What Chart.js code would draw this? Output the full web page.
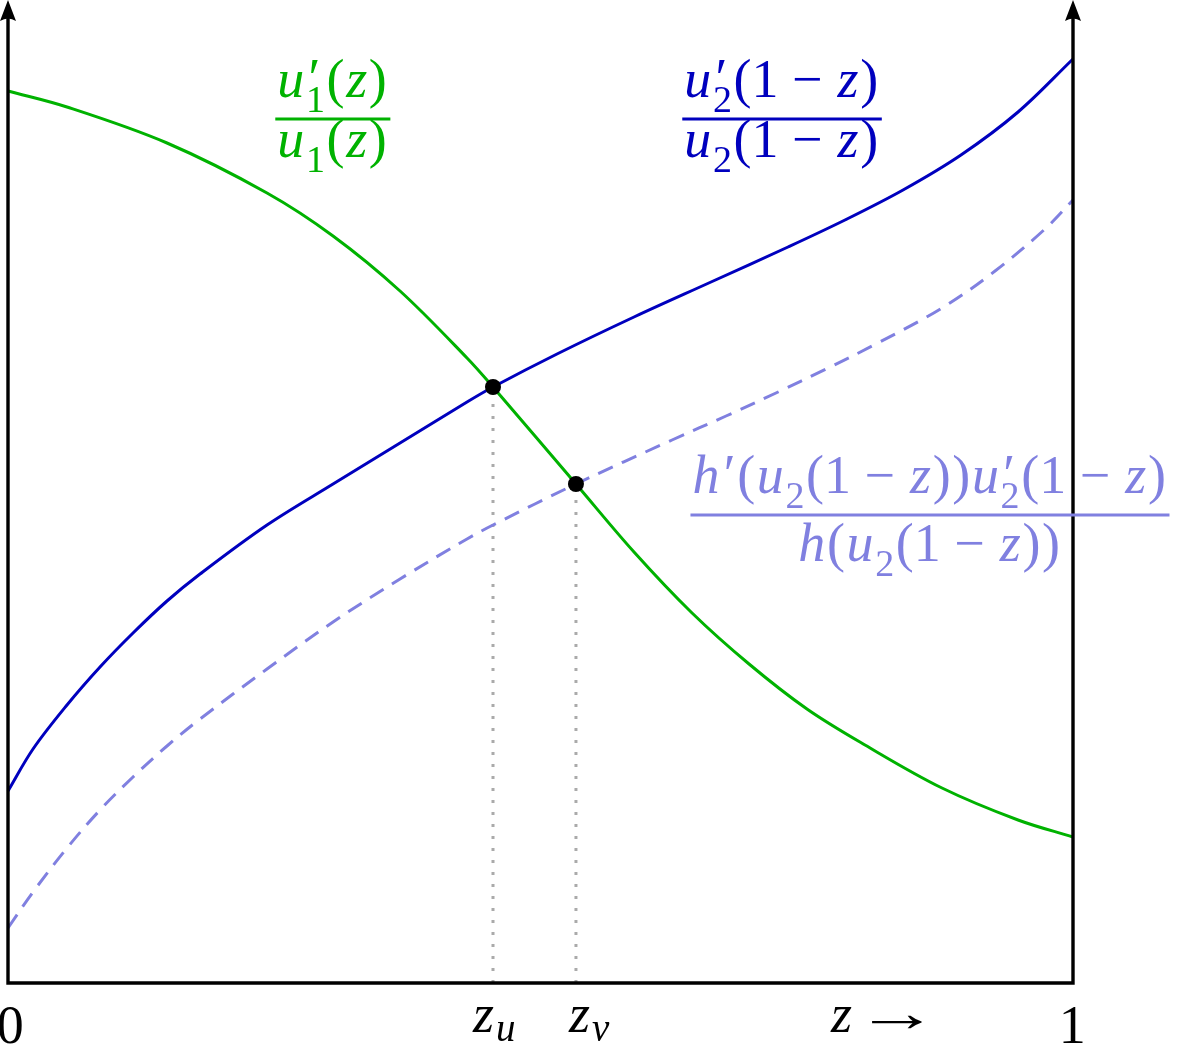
<!DOCTYPE html>
<html>
<head>
<meta charset="utf-8">
<script src="https://cdn.jsdelivr.net/npm/chart.js@4.4.0/dist/chart.umd.min.js"></script>
<style>
  html, body { margin: 0; padding: 0; background: #fff; }
  #wrap { width: 1177px; height: 1046px; }
</style>
</head>
<body>
<div id="wrap"><canvas id="curveChart" width="1177" height="1046"></canvas></div>
<script>
// values (x = z in [0,1], y in arbitrary units)
const greenX = [0, 0.0554, 0.1493, 0.2432, 0.3052, 0.3681, 0.4310, 0.4554, 0.5333, 0.5878, 0.6423, 0.6958, 0.7502, 0.8047, 0.8770, 0.9484, 1.0];
const greenY = [8.92, 8.76, 8.40, 7.90, 7.47, 6.92, 6.25, 5.96, 4.99, 4.31, 3.70, 3.19, 2.74, 2.38, 1.95, 1.63, 1.46];

const blueX = [0, 0.0235, 0.0554, 0.0864, 0.1174, 0.1493, 0.1803, 0.2432, 0.3052, 0.3681, 0.4310, 0.4554, 0.5155, 0.5878, 0.6601, 0.7324, 0.7859, 0.8404, 0.8948, 0.9484, 1.0];
const blueY = [1.92, 2.34, 2.78, 3.16, 3.50, 3.82, 4.09, 4.58, 4.99, 5.40, 5.81, 5.96, 6.29, 6.66, 7.01, 7.36, 7.63, 7.93, 8.28, 8.71, 9.24];

const dashX = [0, 0.0235, 0.0554, 0.0864, 0.1174, 0.1493, 0.1803, 0.2432, 0.3052, 0.3681, 0.4310, 0.4554, 0.5333, 0.6235, 0.6742, 0.7211, 0.7681, 0.8150, 0.8770, 0.9268, 0.9737, 1.0];
const dashY = [0.55, 0.91, 1.35, 1.73, 2.06, 2.37, 2.64, 3.14, 3.61, 4.04, 4.44, 4.58, 4.99, 5.43, 5.67, 5.90, 6.14, 6.39, 6.75, 7.12, 7.54, 7.83];

const crossX = [0.4554, 0.5333];   // z_u, z_v
const crossY = [5.96, 4.99];

const tickVals = [0, 0.4554, 0.5333, 1];

const GREEN = 'rgb(0,178,0)';
const BLUE = 'rgb(0,0,190)';
const LIGHT = 'rgb(128,128,224)';
const FONT = '"Liberation Serif", serif';

function pts(xs, ys) {
    return xs.map((x, i) => ({ x: x, y: ys[i] }));
}

// --- small math text helper: ['i',txt] italic, ['r',txt] roman, ['s',prime,sub] stacked scripts
function tokFont(kind, size) {
    return (kind === 'i' ? 'italic ' : '') + Math.round(size) + 'px ' + FONT;
}
function tokWidth(ctx, t, size) {
    const gap = size * 0.03;
    if (t[0] === 's') {
        ctx.font = tokFont('r', size);
        const a = t[1] ? ctx.measureText(t[1]).width + size * 0.05 : 0;
        ctx.font = tokFont('r', size * 0.7);
        const b = t[2] ? ctx.measureText(t[2]).width : 0;
        return Math.max(a, b) + gap;
    }
    ctx.font = tokFont(t[0], size);
    return ctx.measureText(t[1]).width + gap;
}
function mathWidth(ctx, toks, size) {
    return toks.reduce((w, t) => w + tokWidth(ctx, t, size), 0);
}
function drawMath(ctx, toks, x, y, size, color, align) {
    const w = mathWidth(ctx, toks, size);
    let cx = align === 'center' ? x - w / 2 : (align === 'right' ? x - w : x);
    ctx.fillStyle = color;
    ctx.textBaseline = 'alphabetic';
    ctx.textAlign = 'left';
    toks.forEach(t => {
        const tw = tokWidth(ctx, t, size);
        if (t[0] === 's') {
            if (t[1]) { ctx.font = tokFont('r', size); ctx.fillText(t[1], cx + size * 0.05, y - size * 0.02); }
            if (t[2]) { ctx.font = tokFont('r', size * 0.7); ctx.fillText(t[2], cx, y + size * 0.27); }
        } else {
            ctx.font = tokFont(t[0], size);
            ctx.fillText(t[1], cx, y);
        }
        cx += tw;
    });
    return w;
}
function drawFrac(ctx, num, den, cx, barY, numGap, denGap, size, color) {
    const w = Math.max(mathWidth(ctx, num, size), mathWidth(ctx, den, size)) + 4;
    drawMath(ctx, num, cx, barY - numGap, size, color, 'center');
    drawMath(ctx, den, cx, barY + denGap, size, color, 'center');
    ctx.fillStyle = color;
    ctx.fillRect(cx - w / 2, barY - 1.5, w, 3);
}

const oneMinusZ = [['r', '(1 − '], ['i', 'z'], ['r', ')']];

const axesPlugin = {
    id: 'axesPlugin',
    afterDatasetsDraw(chart) {
        const ctx = chart.ctx;
        const xs = chart.scales.x, ys = chart.scales.y;
        const x0 = xs.getPixelForValue(0), x1 = xs.getPixelForValue(1);
        const yb = ys.getPixelForValue(0), yt = chart.chartArea.top;
        ctx.save();
        ctx.strokeStyle = '#000';
        ctx.fillStyle = '#000';
        ctx.lineWidth = 3.4;
        ctx.lineJoin = 'miter';
        ctx.beginPath();
        ctx.moveTo(x0, yt + 16); ctx.lineTo(x0, yb); ctx.lineTo(x1, yb); ctx.lineTo(x1, yt + 16);
        ctx.stroke();
        [x0, x1].forEach(ax => {
            ctx.beginPath();
            ctx.moveTo(ax, yt);
            ctx.lineTo(ax + 8, yt + 21);
            ctx.quadraticCurveTo(ax, yt + 16, ax - 8, yt + 21);
            ctx.closePath();
            ctx.fill();
        });
        ctx.restore();
    },
    afterDraw(chart) {
        const ctx = chart.ctx;
        const xs = chart.scales.x, ys = chart.scales.y;
        const S = 54;
        ctx.save();
        // curve labels
        drawFrac(ctx,
            [['i', 'u'], ['s', '′', '1'], ['r', '('], ['i', 'z'], ['r', ')']],
            [['i', 'u'], ['s', '', '1'], ['r', '('], ['i', 'z'], ['r', ')']],
            xs.getPixelForValue(0.305), ys.getPixelForValue(8.64), 22, 38, S, GREEN);
        drawFrac(ctx,
            [['i', 'u'], ['s', '′', '2']].concat(oneMinusZ),
            [['i', 'u'], ['s', '', '2']].concat(oneMinusZ),
            xs.getPixelForValue(0.7268), ys.getPixelForValue(8.64), 22, 38, S, BLUE);
        drawFrac(ctx,
            [['i', 'h'], ['s', '′', ''], ['r', '('], ['i', 'u'], ['s', '', '2']].concat(oneMinusZ, [['r', ')'], ['i', 'u'], ['s', '′', '2']], oneMinusZ),
            [['i', 'h'], ['r', '('], ['i', 'u'], ['s', '', '2']].concat(oneMinusZ, [['r', ')']]),
            xs.getPixelForValue(0.8657), ys.getPixelForValue(4.68), 22, 46, S, LIGHT);

        // axis labels
        const by = ys.getPixelForValue(0) + 60;
        ctx.fillStyle = '#000';
        drawMath(ctx, [['r', '0']], xs.getPixelForValue(tickVals[0]) + 3, by, S, '#000', 'center');
        ctx.font = tokFont('i', S);
        ctx.fillText('z', xs.getPixelForValue(tickVals[1]) - 20, by - 11);
        ctx.font = tokFont('i', S * 0.72);
        ctx.fillText('u', xs.getPixelForValue(tickVals[1]) + 3, by - 2);
        ctx.font = tokFont('i', S);
        ctx.fillText('z', xs.getPixelForValue(tickVals[2]) - 7, by - 11);
        ctx.font = tokFont('i', S * 0.72);
        ctx.fillText('v', xs.getPixelForValue(tickVals[2]) + 16, by - 2);
        drawMath(ctx, [['r', '1']], xs.getPixelForValue(tickVals[3]), by, S, '#000', 'center');
        const zx = xs.getPixelForValue(0.7727);
        ctx.font = tokFont('i', S);
        ctx.fillText('z', zx, by - 11);
        // long thin arrow: stretched serif glyph
        ctx.save();
        ctx.translate(zx + 24, by - 12);
        ctx.scale(1.55, 1);
        ctx.font = tokFont('r', S);
        ctx.fillText('→', 0, 0);
        ctx.restore();
        ctx.restore();
    }
};

const curveChart = new Chart(document.getElementById('curveChart'), {
    type: 'scatter',
    data: {
        datasets: [
            {
                label: 'intersections',
                data: pts(crossX, crossY),
                pointRadius: 8,
                pointBackgroundColor: '#000',
                pointBorderWidth: 0,
                showLine: false,
                order: 0
            },
            {
                label: "u1'(z)/u1(z)",
                data: pts(greenX, greenY),
                showLine: true,
                borderColor: GREEN,
                borderWidth: 3,
                pointRadius: 0,
                tension: 0.35,
                order: 1
            },
            {
                label: "u2'(1-z)/u2(1-z)",
                data: pts(blueX, blueY),
                showLine: true,
                borderColor: BLUE,
                borderWidth: 3,
                pointRadius: 0,
                tension: 0.35,
                order: 2
            },
            {
                label: "h'(u2(1-z))u2'(1-z)/h(u2(1-z))",
                data: pts(dashX, dashY),
                showLine: true,
                borderColor: LIGHT,
                borderWidth: 3,
                borderDash: [16, 10],
                pointRadius: 0,
                tension: 0.35,
                order: 3
            },
            {
                label: 'z_u',
                data: [{ x: crossX[0], y: 0 }, { x: crossX[0], y: crossY[0] }],
                showLine: true,
                borderColor: 'rgb(170,170,170)',
                borderWidth: 3,
                borderDash: [3, 9],
                pointRadius: 0,
                order: 4
            },
            {
                label: 'z_v',
                data: [{ x: crossX[1], y: 0 }, { x: crossX[1], y: crossY[1] }],
                showLine: true,
                borderColor: 'rgb(170,170,170)',
                borderWidth: 3,
                borderDash: [3, 9],
                pointRadius: 0,
                order: 4
            }
        ]
    },
    options: {
        responsive: false,
        animation: false,
        clip: false,
        layout: { autoPadding: false, padding: { left: 8, right: 104, top: 0, bottom: 63 } },
        plugins: { legend: { display: false }, tooltip: { enabled: false } },
        scales: {
            x: { type: 'linear', min: 0, max: 1, display: false },
            y: { type: 'linear', min: 0, max: 9.83, display: false }
        }
    },
    plugins: [axesPlugin]
});
</script>
</body>
</html>
